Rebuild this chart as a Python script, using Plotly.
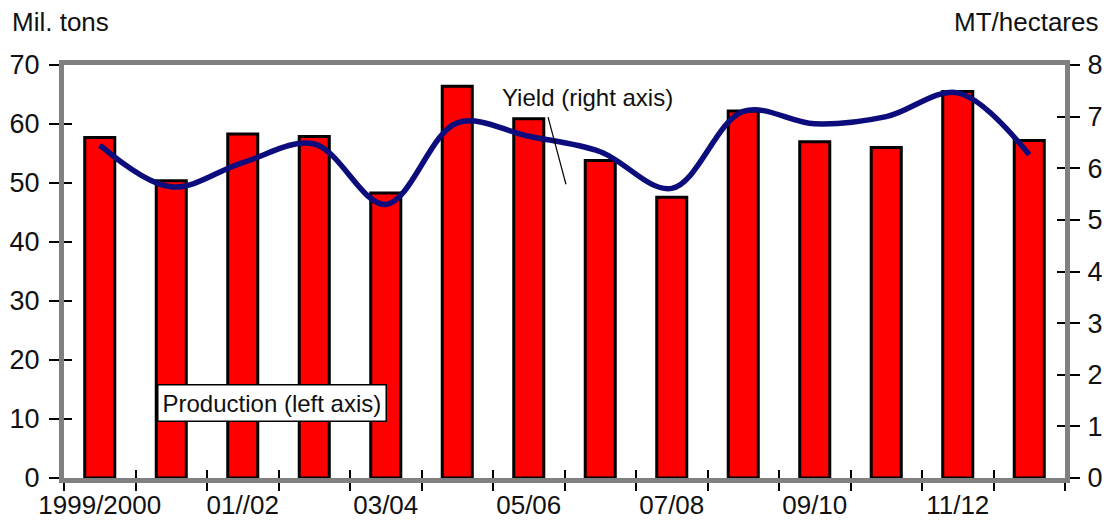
import plotly.graph_objects as go

categories = ["1999/2000", "2000/01", "01//02", "02/03", "03/04", "04/05", "05/06",
              "06/07", "07/08", "08/09", "09/10", "10/11", "11/12", "12/13"]
tick_labels = ["1999/2000", "", "01//02", "", "03/04", "", "05/06",
               "", "07/08", "", "09/10", "", "11/12", ""]
production = [57.7, 50.4, 58.3, 57.9, 48.3, 66.4, 60.9, 53.8, 47.6, 62.2, 57.0, 56.0, 65.5, 57.2]
yield_vals = [6.45, 5.64, 6.11, 6.47, 5.3, 6.88, 6.62, 6.32, 5.61, 7.1, 6.86, 7.0, 7.46, 6.26]
left_ticks = [0, 10, 20, 30, 40, 50, 60, 70]
right_ticks = [0, 1, 2, 3, 4, 5, 6, 7, 8]

FONT = "Liberation Sans, Arial, sans-serif"
GRAY = "#808080"
TICKFONT = dict(size=27, color="#111111")

fig = go.Figure()
fig.add_trace(go.Bar(
    x=categories, y=production, name="Production (left axis)",
    marker=dict(color="#ff0000", line=dict(color="black", width=3)),
    yaxis="y",
))
fig.add_trace(go.Scatter(
    x=categories, y=yield_vals, name="Yield (right axis)", mode="lines",
    line=dict(color="#0c0c7c", width=5.5, shape="spline", smoothing=1.0),
    yaxis="y2",
))

n = len(categories)
boundaries = [i - 0.5 for i in range(n + 1)]

fig.update_layout(
    width=1111, height=522,
    margin=dict(l=64, r=46, t=65, b=44, autoexpand=False),
    paper_bgcolor="white", plot_bgcolor="white",
    showlegend=False,
    bargap=0.58,
    font=dict(family=FONT, size=26, color="#111111"),
    xaxis=dict(
        type="category", tickmode="array", tickvals=categories, ticktext=tick_labels,
        tickson="boundaries", ticks="outside", ticklen=8, tickwidth=1.5, tickcolor="black",
        tickangle=0, automargin=False, ticklabelstandoff=0,
        showline=True, linecolor=GRAY, linewidth=5, mirror=True,
        showgrid=False, zeroline=False, tickfont=dict(size=26, color="#111111"),
    ),
    xaxis2=dict(
        overlaying="x", range=[-0.5, n - 0.5], tickmode="array", tickvals=boundaries,
        ticks="inside", ticklen=8, tickwidth=1.5, tickcolor="black",
        showticklabels=False, showline=False, showgrid=False, zeroline=False,
        side="bottom", anchor="y",
    ),
    yaxis=dict(
        range=[0, 70], tickmode="array", tickvals=left_ticks,
        ticks="outside", ticklen=10, tickwidth=1.5, tickcolor="black", automargin=False,
        ticklabelstandoff=4,
        showline=True, linecolor=GRAY, linewidth=5, mirror=True,
        showgrid=False, zeroline=False, tickfont=TICKFONT,
    ),
    yaxis2=dict(
        range=[0, 8], tickmode="array", tickvals=right_ticks, overlaying="y", side="right",
        ticks="outside", ticklen=10, tickwidth=1.5, tickcolor="black", automargin=False,
        ticklabelstandoff=2,
        showline=True, linecolor=GRAY, linewidth=5,
        showgrid=False, zeroline=False, tickfont=TICKFONT,
    ),
    yaxis3=dict(
        range=[0, 70], tickmode="array", tickvals=left_ticks, overlaying="y", side="left",
        ticks="inside", ticklen=8, tickwidth=1.5, tickcolor="black",
        showticklabels=False, showline=False, showgrid=False, zeroline=False,
    ),
    yaxis4=dict(
        range=[0, 8], tickmode="array", tickvals=right_ticks, overlaying="y", side="right",
        ticks="inside", ticklen=8, tickwidth=1.5, tickcolor="black",
        showticklabels=False, showline=False, showgrid=False, zeroline=False,
    ),
    annotations=[
        dict(text="Mil. tons", xref="paper", yref="paper", x=-0.054, y=1.0, yshift=43,
             xanchor="left", yanchor="middle", showarrow=False, font=dict(size=26)),
        dict(text="MT/hectares", xref="paper", yref="paper", x=1.036, y=1.0, yshift=43,
             xanchor="right", yanchor="middle", showarrow=False, font=dict(size=26)),
        dict(text="Yield (right axis)", xref="x", yref="y2", x=5.6, y=7.38,
             xanchor="left", yanchor="middle", showarrow=False, font=dict(size=24)),
        dict(text="Production (left axis)", xref="x", yref="y", x=0.8, y=12.7,
             xanchor="left", yanchor="middle", showarrow=False, font=dict(size=24),
             bgcolor="white", bordercolor="black", borderwidth=1.5, borderpad=4),
    ],
    shapes=[
        dict(type="line", xref="x", yref="y2", x0=6.27, y0=6.99, x1=6.52, y1=5.69,
             line=dict(color="black", width=1.2)),
    ],
)

# invisible traces so the overlay tick axes are drawn
fig.add_trace(go.Scatter(x=[0], y=[0], xaxis="x2", yaxis="y3", mode="markers",
                         marker=dict(opacity=0), hoverinfo="skip"))
fig.add_trace(go.Scatter(x=[0], y=[0], xaxis="x2", yaxis="y4", mode="markers",
                         marker=dict(opacity=0), hoverinfo="skip"))

fig.write_html("out.html", config={"displayModeBar": False},
               post_script="document.body.style.margin='0';document.body.style.overflow='hidden';")
